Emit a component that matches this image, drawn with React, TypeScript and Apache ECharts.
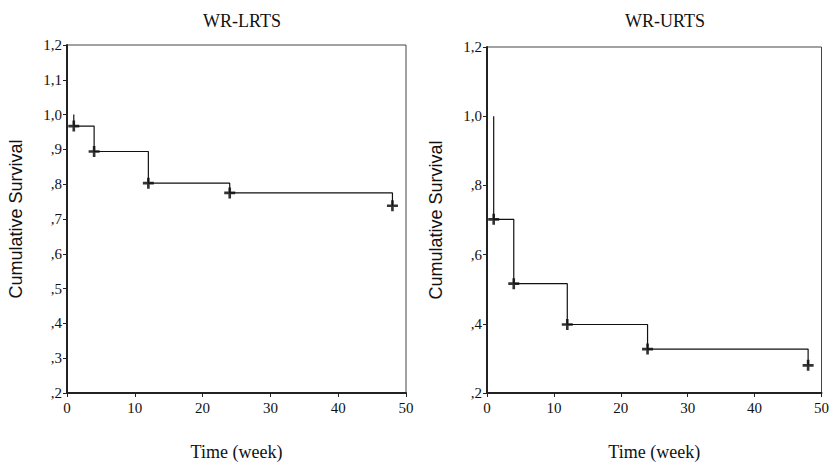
import React, { useEffect, useRef } from "react";
import * as echarts from "echarts";

// Left panel: WR-LRTS
const titleLeft = "WR-LRTS";
const timesLeft = [1, 4, 12, 24, 48];
const survLeft = [0.967, 0.894, 0.803, 0.775, 0.738];

// Right panel: WR-URTS
const titleRight = "WR-URTS";
const timesRight = [1, 4, 12, 24, 48];
const survRight = [0.702, 0.516, 0.398, 0.327, 0.28];

const startSurvival = 1.0;
const xTitle = "Time (week)";
const yTitle = "Cumulative Survival";

const SERIF = "Liberation Serif";
const SANS = "Liberation Sans";
const PLUS = "path://M3.8,0H6.2V3.8H10V6.2H6.2V10H3.8V6.2H0V3.8H3.8Z";

const fmtY = (v: number) => {
  const s = (Math.round(v * 10) / 10).toFixed(1).replace(".", ",");
  return s.startsWith("0") ? s.slice(1) : s;
};

function stepData(times: number[], surv: number[]) {
  const pts: number[][] = [[times[0], startSurvival]];
  times.forEach((t, i) => pts.push([t, surv[i]]));
  return pts;
}

function xAxisFor(gridIndex: number) {
  return {
    type: "value",
    gridIndex,
    min: 0,
    max: 50,
    interval: 10,
    name: xTitle,
    nameLocation: "middle",
    nameGap: 50,
    nameTextStyle: { fontFamily: SERIF, fontSize: 18, color: "#111" },
    axisLine: { show: true, lineStyle: { color: "#222", width: 2 } },
    axisTick: { show: true, length: 4, lineStyle: { color: "#222", width: 1 } },
    axisLabel: {
      show: true,
      fontFamily: SERIF,
      fontSize: 15,
      color: "#111",
      margin: 7,
      textStyle: { fontFamily: SERIF, fontSize: 15 },
    },
    splitLine: { show: false },
  };
}

function yAxisFor(gridIndex: number, interval: number) {
  return {
    type: "value",
    gridIndex,
    min: 0.2,
    max: 1.2,
    interval,
    name: yTitle,
    nameLocation: "middle",
    nameGap: 42,
    nameRotate: 90,
    nameTextStyle: { fontFamily: SANS, fontSize: 18, color: "#111" },
    axisLine: { show: true, lineStyle: { color: "#222", width: 2 } },
    axisTick: { show: true, length: 4, lineStyle: { color: "#222", width: 1 } },
    axisLabel: {
      show: true,
      fontFamily: SERIF,
      fontSize: 15,
      color: "#111",
      margin: 5,
      formatter: fmtY,
      textStyle: { fontFamily: SERIF, fontSize: 15 },
    },
    splitLine: { show: false },
  };
}

export default function App() {
  const ref = useRef<HTMLDivElement>(null);
  useEffect(() => {
    document.body.style.margin = "0";
    if (!ref.current) return;
    const chart = echarts.init(ref.current, undefined, { renderer: "svg" });
    chart.setOption({
      animation: false,
      backgroundColor: "#ffffff",
      textStyle: { fontFamily: SERIF, fontSize: 15, color: "#111" },
      title: [
        {
          text: titleLeft,
          left: 237,
          top: 7,
          textAlign: "center",
          textStyle: { fontFamily: SERIF, fontSize: 18, fontWeight: "normal", color: "#111" },
        },
        {
          text: titleRight,
          left: 660,
          top: 7,
          textAlign: "center",
          textStyle: { fontFamily: SERIF, fontSize: 18, fontWeight: "normal", color: "#111" },
        },
      ],
      grid: [
        { left: 67, top: 45, width: 339, height: 348, show: true, borderColor: "#444", borderWidth: 1, backgroundColor: "transparent" },
        { left: 487, top: 47, width: 341, height: 347, show: true, borderColor: "#444", borderWidth: 1, backgroundColor: "transparent" },
      ],
      xAxis: [xAxisFor(0), xAxisFor(1)],
      yAxis: [yAxisFor(0, 0.1), yAxisFor(1, 0.2)],
      series: [
        {
          type: "line",
          xAxisIndex: 0,
          yAxisIndex: 0,
          step: "end",
          data: stepData(timesLeft, survLeft),
          showSymbol: false,
          lineStyle: { color: "#111", width: 1.2 },
        },
        {
          type: "scatter",
          xAxisIndex: 0,
          yAxisIndex: 0,
          data: timesLeft.map((t, i) => [t, survLeft[i]]),
          symbol: PLUS,
          symbolSize: 11,
          itemStyle: { color: "#000" },
        },
        {
          type: "line",
          xAxisIndex: 1,
          yAxisIndex: 1,
          step: "end",
          data: stepData(timesRight, survRight),
          showSymbol: false,
          lineStyle: { color: "#111", width: 1.2 },
        },
        {
          type: "scatter",
          xAxisIndex: 1,
          yAxisIndex: 1,
          data: timesRight.map((t, i) => [t, survRight[i]]),
          symbol: PLUS,
          symbolSize: 11,
          itemStyle: { color: "#000" },
        },
      ],
    });
    return () => chart.dispose();
  }, []);
  return <div ref={ref} style={{ width: 832, height: 466 }} />;
}
